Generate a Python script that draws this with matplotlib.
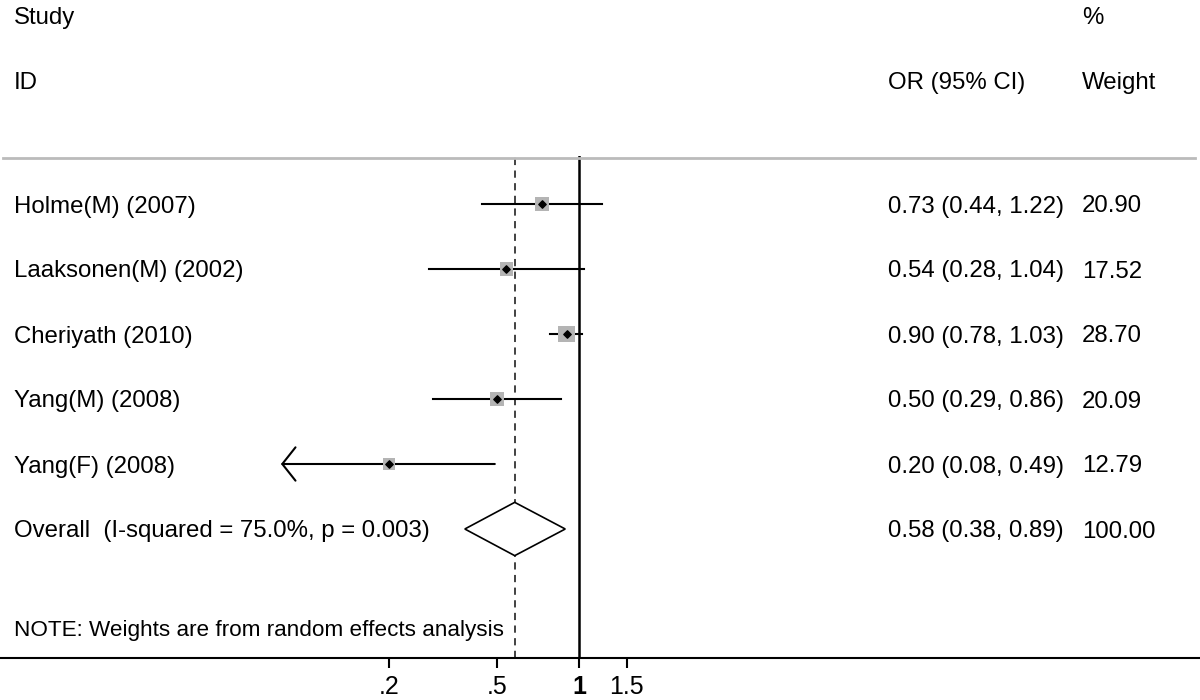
import numpy as np
import matplotlib
matplotlib.use('Agg')
import matplotlib.pyplot as plt
import matplotlib.transforms as mtransforms

plt.rcParams['font.family'] = ['Liberation Sans', 'DejaVu Sans']

studies = ['Holme(M) (2007)', 'Laaksonen(M) (2002)', 'Cheriyath (2010)',
           'Yang(M) (2008)', 'Yang(F) (2008)']
odds = [0.73, 0.54, 0.90, 0.50, 0.20]
lower = [0.44, 0.28, 0.78, 0.29, 0.08]
upper = [1.22, 1.04, 1.03, 0.86, 0.49]
weights = [20.90, 17.52, 28.70, 20.09, 12.79]

overall_label = 'Overall  (I-squared = 75.0%, p = 0.003)'
overall = (0.58, 0.38, 0.89)
overall_weight = 100.00
axis_min = 0.2   # studies below this get an arrow

ticks = [0.2, 0.5, 1, 1.5]
tick_labels = ['.2', '.5', '1', '1.5']
note = 'NOTE: Weights are from random effects analysis'

W, H = 1200, 700
fig = plt.figure(figsize=(12, 7), dpi=100)
# axes spans from the header rule (y=156px) to the x axis (y=658px)
ax = fig.add_axes([0, (H - 658) / H, 1, (658 - 156) / H])
ax.set_xscale('log')
ax.set_xlim(np.exp(-579 / 118), np.exp((W - 579) / 118))
ax.set_ylim(1 + 454 / 65, 1 - 48 / 65)

for s in ['top', 'left', 'right']:
    ax.spines[s].set_visible(False)
ax.spines['bottom'].set_linewidth(1.5)
ax.set_yticks([])
ax.set_xticks(ticks)
ax.set_xticklabels(tick_labels, fontsize=18)
ax.xaxis.set_minor_locator(matplotlib.ticker.NullLocator())
ax.tick_params(axis='x', length=7, width=1.5, pad=5)
ax.get_xticklabels()[2].set_fontweight('bold')

fs = 17.3
trans = mtransforms.blended_transform_factory(ax.transAxes, ax.transData)
x_id = 14 / W
x_or = 888 / W
x_w = 1082 / W

rows = np.arange(1, len(studies) + 1)

# reference lines
ax.axvline(1, color='black', lw=1.8)
ax.axvline(overall[0], color='#333333', lw=1.3, ls=(0, (4, 3)))

# header rule
ax.plot([3 / W, 1195 / W], [1 - 48 / 65 + 0.03] * 2, transform=trans,
        color='#bbbbbb', lw=2, clip_on=False)

# headers
kw = dict(transform=trans, fontsize=fs, va='center_baseline')
ax.text(x_id, -1.9, 'Study', **kw)
ax.text(x_id, -0.9, 'ID', **kw)
ax.text(x_w, -1.9, '%', **kw)
ax.text(x_w, -0.9, 'Weight', **kw)
ax.text(x_or, -0.9, 'OR (95% CI)', **kw)

for y, name, o, lo, hi, w in zip(rows, studies, odds, lower, upper, weights):
    if lo < axis_min * 0.5:
        ax.annotate('', xy=(lo, y), xytext=(hi, y),
                    arrowprops=dict(arrowstyle='->,head_length=0.95,head_width=1.2',
                                    lw=1.5, color='black',
                                    shrinkA=0, shrinkB=0))
    else:
        ax.plot([lo, hi], [y, y], color='black', lw=1.5)
    ax.scatter([o], [y], s=5.2 * w, marker='s', color='#b4b4b4',
               edgecolors='none', zorder=3)
    ax.scatter([o], [y], s=14, marker='D', color='black', zorder=4)
    ax.text(x_id, y, name, **kw)
    ax.text(x_or, y, '%.2f (%.2f, %.2f)' % (o, lo, hi), **kw)
    ax.text(x_w, y, '%.2f' % w, **kw)

# overall diamond
yo = len(studies) + 1
est, lo, hi = overall
h = 0.41
ax.fill([lo, est, hi, est, lo], [yo, yo - h, yo, yo + h, yo],
        facecolor='white', edgecolor='black', lw=1.2, zorder=3)
ax.text(x_id, yo, overall_label, **kw)
ax.text(x_or, yo, '%.2f (%.2f, %.2f)' % overall, **kw)
ax.text(x_w, yo, '%.2f' % overall_weight, **kw)

ax.text(x_id, yo + 1.52, note, transform=trans, fontsize=16.2,
        va='center_baseline')

fig.savefig('out.png', dpi=100)
